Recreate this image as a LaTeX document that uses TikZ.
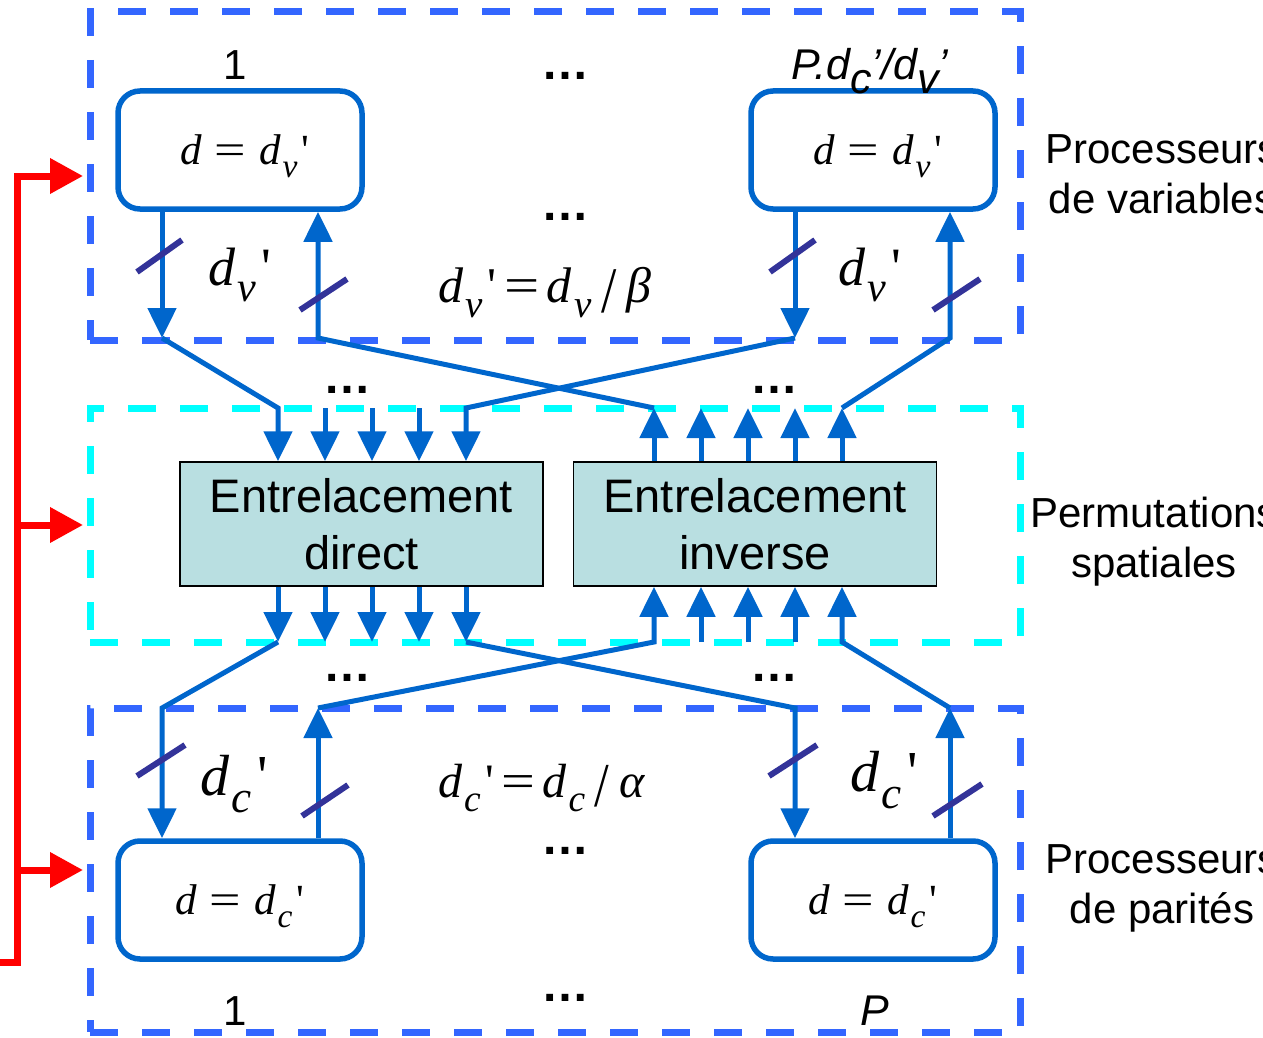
\documentclass[tikz,border=0pt]{standalone}
\usepackage{fontspec}
\setmainfont{Liberation Serif}
\setsansfont{Liberation Sans}
\usepackage{graphicx}
\usetikzlibrary{arrows.meta}
\definecolor{pblue}{HTML}{0066CC}
\definecolor{dblue}{HTML}{3366FF}
\definecolor{slashc}{HTML}{333399}
\definecolor{boxfill}{HTML}{B9DFE1}
\definecolor{cyanc}{HTML}{00FFFF}
\definecolor{redc}{HTML}{FF0000}
\newcommand\sbs[1]{\kern.04em\raisebox{-.3em}[0pt][0pt]{\scalebox{.78}{\textit{#1}}}}
\newcommand\qt{\kern.1em\textquotesingle}
\newcommand\eqs{\kern.3em\scalebox{1.3}[1]{=}\kern.3em}
\newcommand\slsh{\kern.2em\raisebox{-.2em}{\scalebox{1.1}[1.3]{/}}\kern.2em}
\begin{document}
\begin{tikzpicture}[x=1pt,y=-1pt,
  proc/.style={draw=pblue, fill=white, line width=5.5pt, rounded corners=22pt,
    minimum width=244pt, minimum height=118pt, inner sep=0pt,
    font=\fontsize{43}{43}\selectfont},
  perm/.style={draw=black, line width=1.5pt, fill=boxfill, minimum width=363pt,
    minimum height=124pt, inner sep=0pt, align=center,
    font=\sffamily\fontsize{47}{57}\selectfont},
  frame/.style={line width=7pt, dash pattern=on 28pt off 24pt, inner sep=0pt},
  link/.style={draw=pblue, line width=5pt},
  arr/.style={link, -{Triangle[length=30pt,width=28pt]}},
  slash/.style={draw=slashc, line width=6pt},
  feedarr/.style={draw=redc, line width=7pt, -{Triangle[length=33pt,width=34pt]}},
  lbl/.style={inner sep=0pt, anchor=base, font=\sffamily\fontsize{42}{50}\selectfont},
  dots/.style={inner sep=0pt, anchor=base, font=\sffamily\bfseries\fontsize{48}{48}\selectfont},
  mlbl/.style={inner sep=0pt, anchor=base west, font=\fontsize{#1}{#1}\selectfont}]
\useasboundingbox (0,0) rectangle (1263,1038);

% frames
\node[frame, draw=dblue, minimum width=930pt, minimum height=328pt] (fv) at (555,176) {};
\node[frame, draw=cyanc, minimum width=930pt, minimum height=234pt] (fp) at (555,525) {};
\node[frame, draw=dblue, minimum width=930pt, minimum height=324pt] (fc) at (555,870) {};

% processors
\node[proc] (v1) at (240,150) {\hspace*{10pt}\textit{d}\eqs\textit{d}\sbs{v}\qt};
\node[proc] (vP) at (873,150) {\hspace*{10pt}\textit{d}\eqs\textit{d}\sbs{v}\qt};
\node[proc] (c1) at (240,900) {\textit{d}\eqs\textit{d}\sbs{c}\qt};
\node[proc] (cP) at (873,900) {\textit{d}\eqs\textit{d}\sbs{c}\qt};

% interleavers
\node[perm] (ed) at (361.5,524) {Entrelacement\\direct};
\node[perm] (ei) at (755,524) {Entrelacement\\inverse};

% junction coordinates
\coordinate (a1) at (162,338);
\coordinate (a2) at (318,338);
\coordinate (a3) at (795,338);
\coordinate (a4) at (950,338);
\coordinate (b1) at (162,708);
\coordinate (b2) at (318,708);
\coordinate (b3) at (795,708);
\coordinate (b4) at (950,708);
\foreach \x [count=\i] in {278,325,372,419,466} {
  \coordinate (dt\i) at (\x,408); \coordinate (db\i) at (\x,642);}
\foreach \x [count=\i] in {654,701,748,795,842} {
  \coordinate (it\i) at (\x,408); \coordinate (ib\i) at (\x,642);}

% inner columns
\foreach \i in {2,3,4} {
  \draw[arr] (dt\i) -- (dt\i |- ed.north);
  \draw[arr] (db\i |- ed.south) -- (db\i);
  \draw[arr] (it\i |- ei.north) -- (it\i);
  \draw[arr] (ib\i) -- (ib\i |- ei.south);
}

% top connectors
\draw[arr] (v1.south -| a1) -- (a1);
\draw[arr] (vP.south -| a3) -- (a3);
\draw[arr] (a1) -- (dt1) -- (dt1 |- ed.north);
\draw[arr] (a3) -- (dt5) -- (dt5 |- ed.north);
\draw[arr] (it1 |- ei.north) -- (it1);
\draw[arr] (it5 |- ei.north) -- (it5);
\draw[arr] (it1) -- (a2) -- (a2 |- v1.south);
\draw[arr] (it5) -- (a4) -- (a4 |- vP.south);

% bottom connectors
\draw[arr] (db1 |- ed.south) -- (db1);
\draw[arr] (db5 |- ed.south) -- (db5);
\draw[arr] (db1) -- (b1) -- (b1 |- c1.north);
\draw[arr] (db5) -- (b3) -- (b3 |- cP.north);
\draw[arr] (c1.north -| b2) -- (b2);
\draw[arr] (cP.north -| b4) -- (b4);
\draw[arr] (b2) -- (ib1) -- (ib1 |- ei.south);
\draw[arr] (b4) -- (ib5) -- (ib5 |- ei.south);

% bus slashes
\draw[slash] (137,272) -- (182,240);
\draw[slash] (300,310) -- (347,279);
\draw[slash] (770,272) -- (815,240);
\draw[slash] (933,310) -- (980,279);
\draw[slash] (137,776) -- (185,745);
\draw[slash] (302,816) -- (348,785);
\draw[slash] (769,776) -- (817,745);
\draw[slash] (933,816) -- (982,784);

% feedback
\coordinate (rs) at (0,962);
\coordinate (rx) at (17,962);
\draw[feedarr] (rs) -- (rx) -- (rx |- fv.west) -- ([xshift=-3.5pt]fv.west);
\draw[feedarr] (rx |- fp.west) -- ([xshift=-3.5pt]fp.west);
\draw[feedarr] (rx |- fc.west) -- ([xshift=-3.5pt]fc.west);

% labels
\node[lbl] (n1t) at (235,80) {1};
\node[lbl, anchor=base west, font=\sffamily\itshape\fontsize{43}{50}\selectfont] (nPt) at (791,80)
  {P.d\raisebox{-.32em}{c}’/d\raisebox{-.32em}{v}’};
\node[lbl] (n1b) at (235,1025) {1};
\node[lbl, font=\sffamily\itshape\fontsize{43}{50}\selectfont] (nPb) at (875,1025) {P};

\node[dots] (e1) at (565,80) {…};
\node[dots] (e2) at (565,220) {…};
\node[dots] (e3) at (347,393) {…};
\node[dots] (e4) at (774,393) {…};
\node[dots] (e5) at (347,681) {…};
\node[dots] (e6) at (774,681) {…};
\node[dots] (e7) at (565,854) {…};
\node[dots] (e8) at (565,1001) {…};

\node[mlbl=54] (lv1) at (208,285) {\textit{d}\sbs{v}\qt};
\node[mlbl=54] (lv2) at (838,285) {\textit{d}\sbs{v}\qt};
\node[mlbl=50] (fb) at (438,302) {\textit{d}\sbs{v}\qt\kern.15em\scalebox{1.25}[1]{=}\kern.15em\textit{d}\sbs{v}\slsh\textit{β}};
\node[mlbl=58] (lc1) at (200,795) {\textit{d}\sbs{c}\qt};
\node[mlbl=58] (lc2) at (850,791) {\textit{d}\sbs{c}\qt};
\node[mlbl=48] (fa) at (438,797) {\textit{d}\sbs{c}\qt\kern.15em\scalebox{1.25}[1]{=}\kern.15em\textit{d}\sbs{c}\slsh\textit{α}};

% right-side titles
\node[lbl] (tv1) at (1162,163) {Processeurs};
\node[lbl] (tv2) at (1162,213) {de variables};
\node[lbl] (tp1) at (1154,527) {Permutations};
\node[lbl] (tp2) at (1154,577) {spatiales};
\node[lbl] (tc1) at (1162,873) {Processeurs};
\node[lbl] (tc2) at (1162,923) {de parités};
\end{tikzpicture}
\end{document}
